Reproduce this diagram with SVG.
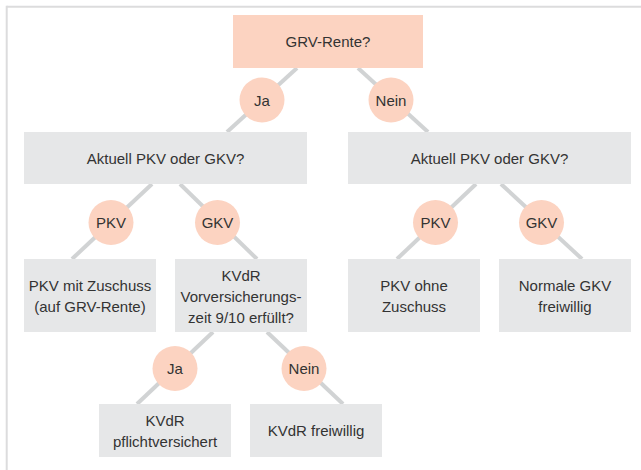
<svg xmlns="http://www.w3.org/2000/svg" width="641" height="470" viewBox="0 0 641 470">
<style>
.frame{stroke:#dcdcdd;stroke-width:2;fill:none}
.edge{stroke:#d1d3d4;stroke-width:4;fill:none}
.q{fill:#fcd3c1}
.box{fill:#e6e7e8}
.lab{fill:#fcd3c1}
text{font-family:"Liberation Sans",Arial,sans-serif;font-size:15px;fill:#333333;text-anchor:middle}
</style>
<rect width="641" height="470" fill="#ffffff"/>
<g id="frame">
<line class="frame" x1="6.7" y1="6.8" x2="641" y2="6.8"/>
<line class="frame" x1="6.7" y1="5.8" x2="6.7" y2="470"/>
</g>
<g id="connectors">
<line class="edge" x1="297" y1="68" x2="227" y2="132"/>
<line class="edge" x1="358" y1="68" x2="428" y2="132"/>
<line class="edge" x1="152" y1="184" x2="72" y2="259"/>
<line class="edge" x1="180" y1="184" x2="257" y2="259"/>
<line class="edge" x1="476" y1="184" x2="397" y2="259"/>
<line class="edge" x1="501" y1="184" x2="582" y2="259"/>
<line class="edge" x1="213" y1="332" x2="137" y2="404"/>
<line class="edge" x1="267" y1="332" x2="343" y2="404"/>
</g>
<g id="n-grv"><rect class="q" x="233" y="15" width="190" height="53"/><text x="328" y="46.5">GRV-Rente?</text></g>
<g id="l-ja1"><circle class="lab" cx="262" cy="100" r="22.5"/><text x="262" y="105.5">Ja</text></g>
<g id="l-nein1"><circle class="lab" cx="391" cy="100" r="22.5"/><text x="391" y="105.5">Nein</text></g>
<g id="n-aktuell-l"><rect class="box" x="24" y="132" width="283" height="52"/><text x="165.5" y="163.5">Aktuell PKV oder GKV?</text></g>
<g id="n-aktuell-r"><rect class="box" x="348" y="132" width="283" height="52"/><text x="489.5" y="163.5">Aktuell PKV oder GKV?</text></g>
<g id="l-pkv1"><circle class="lab" cx="111" cy="222.5" r="22.5"/><text x="111" y="228">PKV</text></g>
<g id="l-gkv1"><circle class="lab" cx="217.5" cy="222.5" r="22.5"/><text x="217.5" y="228">GKV</text></g>
<g id="l-pkv2"><circle class="lab" cx="435.5" cy="222.5" r="22.5"/><text x="435.5" y="228">PKV</text></g>
<g id="l-gkv2"><circle class="lab" cx="541.5" cy="222.5" r="22.5"/><text x="541.5" y="228">GKV</text></g>
<g id="n-pkv-zuschuss"><rect class="box" x="24" y="259" width="132" height="73"/><text x="90" y="290.5">PKV mit Zuschuss</text><text x="90" y="311.5">(auf GRV-Rente)</text></g>
<g id="n-kvdr-q"><rect class="box" x="175" y="259" width="132" height="73"/><text x="241" y="280.5">KVdR</text><text x="241" y="301.5">Vorversicherungs-</text><text x="241" y="322.5">zeit 9/10 erfüllt?</text></g>
<g id="n-pkv-ohne"><rect class="box" x="348" y="259" width="132" height="73"/><text x="414" y="290.5">PKV ohne</text><text x="414" y="311.5">Zuschuss</text></g>
<g id="n-gkv-frei"><rect class="box" x="499" y="259" width="132" height="73"/><text x="565" y="290.5">Normale GKV</text><text x="565" y="311.5">freiwillig</text></g>
<g id="l-ja2"><circle class="lab" cx="175" cy="368.5" r="22.5"/><text x="175" y="374">Ja</text></g>
<g id="l-nein2"><circle class="lab" cx="304" cy="368.5" r="22.5"/><text x="304" y="374">Nein</text></g>
<g id="n-kvdr-pflicht"><rect class="box" x="99" y="404" width="132" height="53"/><text x="165" y="425.5">KVdR</text><text x="165" y="446.5">pflichtversichert</text></g>
<g id="n-kvdr-frei"><rect class="box" x="250" y="404" width="132" height="53"/><text x="316" y="436">KVdR freiwillig</text></g>
</svg>
